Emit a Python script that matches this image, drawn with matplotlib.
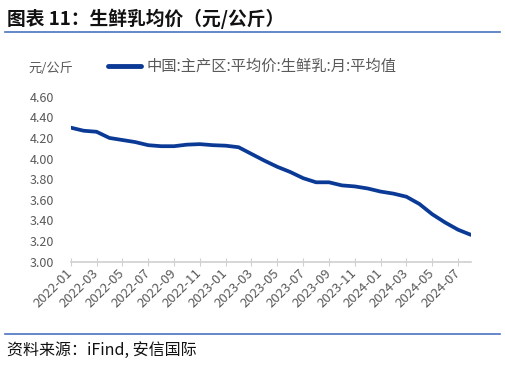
import numpy as np
import matplotlib
matplotlib.use('Agg')
import matplotlib.pyplot as plt
from matplotlib.lines import Line2D

plt.rcParams['font.family'] = ['Noto Sans CJK SC', 'DejaVu Sans']

# data: monthly average raw milk price, main producing areas (yuan/kg)
months = ['2022-01', '2022-02', '2022-03', '2022-04', '2022-05', '2022-06', '2022-07', '2022-08',
          '2022-09', '2022-10', '2022-11', '2022-12', '2023-01', '2023-02', '2023-03', '2023-04',
          '2023-05', '2023-06', '2023-07', '2023-08', '2023-09', '2023-10', '2023-11', '2023-12',
          '2024-01', '2024-02', '2024-03', '2024-04', '2024-05', '2024-06', '2024-07', '2024-08']
price = [4.30, 4.27, 4.26, 4.20, 4.18, 4.16, 4.13, 4.12,
         4.12, 4.135, 4.14, 4.13, 4.125, 4.11, 4.045, 3.98,
         3.92, 3.87, 3.81, 3.77, 3.77, 3.74, 3.73, 3.71,
         3.68, 3.66, 3.63, 3.56, 3.46, 3.38, 3.31, 3.26]
yticks = [3.00, 3.20, 3.40, 3.60, 3.80, 4.00, 4.20, 4.40, 4.60]
series_name = '中国:主产区:平均价:生鲜乳:月:平均值'

W, H = 506, 365
fig = plt.figure(figsize=(W / 100, H / 100), dpi=100)
ax = fig.add_axes([70.7 / W, 1 - 261.7 / H, 400.3 / W, 165 / H])

line_color = '#0b3a96'
gray = '#595959'
x = np.arange(len(months))
ax.plot(x, price, color=line_color, lw=2.7, solid_joinstyle='round', solid_capstyle='round')

ax.set_xlim(0, len(months) - 1)
ax.set_ylim(3.0, 4.6)
ax.set_yticks(yticks)
ax.set_yticklabels([f'{v:.2f}' for v in yticks], color=gray, fontsize=9)
ax.set_xticks(x[::2])
ax.set_xticklabels(months[::2], rotation=45, ha='right', va='center', rotation_mode='anchor',
                   color=gray, fontsize=9.5)
ax.tick_params(axis='y', length=0, pad=12)
ax.tick_params(axis='x', direction='inout', length=6, width=0.8, color='#d0d0d0', pad=4)
for s in ['left', 'right', 'top']:
    ax.spines[s].set_visible(False)
ax.spines['bottom'].set_color('#d0d0d0')
ax.spines['bottom'].set_linewidth(1.2)

# header, unit, legend
fig.text(7 / W, 1 - 19 / H, '图表 11：生鲜乳均价（元/公斤）', fontsize=13.5, fontweight='bold',
         va='center', ha='left', color='#111111')
fig.add_artist(Line2D([5 / W, 500 / W], [1 - 32 / H, 1 - 32 / H], color='#4a72c0', lw=1.2))
fig.text(28 / W, 1 - 68 / H, '元/公斤', fontsize=9.5, color=gray, va='center', ha='left')
fig.add_artist(Line2D([108 / W, 141 / W], [1 - 66 / H, 1 - 66 / H], color=line_color, lw=3.5,
                      solid_capstyle='round'))
fig.text(147 / W, 1 - 66 / H, series_name, fontsize=11, color=gray, va='center', ha='left')

# footer
fig.add_artist(Line2D([5 / W, 500 / W], [1 - 334 / H, 1 - 334 / H], color='#4a72c0', lw=1.2))
fig.text(7 / W, 1 - 350 / H, '资料来源：iFind, 安信国际', fontsize=11.5, style='italic',
         color='#111111', va='center', ha='left')

fig.savefig('out.png', dpi=100)
